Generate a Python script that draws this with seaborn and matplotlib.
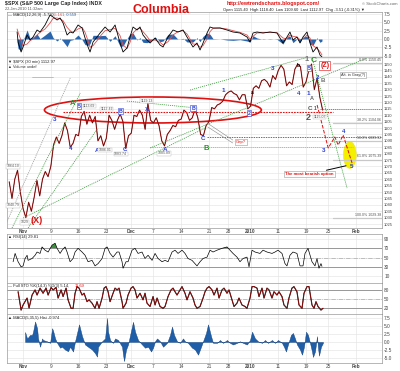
import numpy as np
import matplotlib
matplotlib.use("Agg")
import matplotlib.pyplot as plt
import seaborn as sns
from matplotlib.patches import Ellipse

sns.set_theme(style="white")
plt.rcParams['font.family'] = ['Liberation Sans', 'DejaVu Sans']

# ---------------- data (x = trading-day index, Nov 2 2009 = 0) ----------------
date_ticks = [0, 5, 10, 15, 19.5, 23.5, 28.5, 33.5, 37, 41, 46, 51, 55, 60]
date_labels = ['Nov', '9', '16', '23', 'Dec', '7', '14', '21', '28', '2010', '11', '19', '25', 'Feb']
price_start = -2.5
price = [1058, 1045, 1060, 1067, 1050, 1037,
         1030, 1042, 1035, 1046, 1059, 1047,
         1060, 1066, 1062, 1070, 1087, 1093,
         1088, 1094, 1104, 1098, 1085, 1088,
         1095, 1094, 1109, 1113, 1103, 1110,
         1104, 1109, 1090, 1094, 1086, 1092,
         1110, 1106, 1099, 1106, 1111, 1105,
         1084, 1094, 1096, 1110, 1109, 1114,
         1110, 1099, 1119, 1106, 1104, 1108,
         1102, 1090, 1086, 1095, 1098, 1102,
         1101, 1106, 1107, 1114, 1112, 1106,
         1108, 1115, 1108, 1095, 1094, 1102,
         1105, 1116, 1115, 1118, 1119, 1121,
         1126, 1128, 1129, 1127, 1126, 1122,
         1126, 1126, 1115, 1117, 1131, 1133,
         1131, 1137, 1138, 1136, 1132, 1141,
         1138, 1145, 1149, 1146, 1133, 1136,
         1134, 1146, 1150, 1148, 1132, 1136,
         1145, 1150, 1130, 1139, 1124, 1114]

macd_day = [-1.08, -0.90, -0.36, 0.00, 0.72, 1.26, 1.80, 2.52, 3.06, 3.96,
            4.86, 5.41, 6.13, 6.67, 7.21, 7.93, 8.47, 9.01, 9.91, 10.63,
            11.17, 11.71, 12.07, 12.61, 13.33, 13.88, 14.78, 15.68, 16.58, 17.48,
            18.02, 18.74, 19.28, 19.82, 20.54, 21.08, 21.62, 22.34, 22.89, 23.79,
            24.69, 25.23, 26.13, 27.03, 27.93, 28.83, 29.55, 30.09, 30.63, 31.35,
            31.90, 32.44, 33.16, 33.70, 34.24, 35.50, 36.76, 37.84, 39.10, 40.36,
            40.91, 41.45, 42.17, 43.25, 44.51, 45.77, 46.85, 47.57, 48.11, 48.65,
            49.37, 49.92, 50.46, 51.18, 51.72, 52.26, 52.98, 53.52, 53.88]
macd_line = [2.1, -0.9, -3.9, -2.4, 1.2, -0.3, 0.6, 2.7, 2.1, 4.2,
             7.2, 6.6, 5.7, 6.3, 4.8, 1.2, 2.1, 1.8, 4.2, 3.3,
             0.3, -2.4, -3.9, -0.9, 0.6, 1.8, 3.6, 2.1, 4.2, -1.2,
             -3.9, -2.7, 0.6, 3.6, 2.7, 3.6, 1.2, -0.3, -1.2, 0.3,
             -1.8, -2.4, 0.6, 2.7, 2.1, 2.7, 0.6, -0.9, -2.4, -1.2,
             -3.3, -1.2, 1.8, 3.6, 3.3, 3.3, 2.7, 2.1, 1.8, 0.6,
             -0.9, 1.8, 2.1, 1.8, 2.1, 1.8, -1.2, 0.6, 2.1, -0.3,
             0.6, -1.2, 0.6, 2.1, -1.2, -3.9, -2.4, -4.8, -5.4]
macd_signal = [3.0, 2.0, -0.5, -2.0, -1.5, -0.5, 0.0, 1.2, 2.0, 3.0,
               4.8, 6.2, 6.3, 6.0, 5.5, 3.5, 2.5, 2.0, 3.0, 3.5,
               2.0, -0.5, -2.5, -2.0, -0.5, 0.8, 2.5, 2.8, 3.2, 1.0,
               -1.8, -2.8, -1.0, 1.8, 3.0, 3.2, 2.2, 0.8, -0.5, -0.3,
               -1.0, -1.8, -0.8, 1.2, 2.2, 2.5, 1.5, 0.0, -1.5, -1.6,
               -2.5, -2.0, 0.0, 2.2, 3.2, 3.3, 3.0, 2.5, 2.0, 1.2,
               0.0, 0.8, 1.8, 1.9, 2.0, 1.9, 0.3, 0.0, 1.2, 0.8,
               0.6, -0.2, 0.0, 1.2, 0.3, -2.0, -2.8, -3.8, -4.8]

rsi_day = [-1.80, -1.44, -0.90, -0.36, 0.00, 0.36, 0.72, 0.90, 1.62, 2.16,
           2.52, 3.06, 3.42, 3.96, 4.51, 5.23, 5.77, 6.13, 6.67, 7.03,
           7.57, 7.93, 8.47, 9.01, 9.37, 9.91, 10.63, 11.17, 11.71, 12.43,
           12.97, 13.52, 14.24, 14.78, 15.14, 15.68, 16.22, 16.94, 17.30, 17.84,
           18.02, 18.56, 18.92, 19.64, 20.18, 20.72, 21.44, 21.98, 22.53, 23.25,
           23.79, 24.33, 25.05, 25.59, 26.13, 26.85, 27.39, 27.93, 28.65, 29.19,
           29.73, 30.45, 31.35, 31.90, 32.44, 33.16, 33.70, 34.24, 34.96, 35.86,
           36.76, 37.30, 37.84, 38.56, 39.10, 39.64, 40.36, 40.73, 41.27, 41.81,
           42.71, 43.25, 43.97, 44.87, 45.41, 45.95, 46.67, 47.21, 47.57, 48.11,
           48.65, 49.37, 49.92, 50.46, 50.82, 51.36, 52.08, 52.62, 52.98, 53.34,
           53.70, 53.88]
rsi = [41, 59, 41, 30, 32, 48, 55, 44, 48, 55,
       62, 59, 73, 66, 62, 77, 81, 70, 59, 66,
       73, 62, 41, 48, 62, 70, 62, 55, 41, 44,
       32, 37, 48, 70, 73, 59, 51, 62, 62, 41,
       27, 41, 41, 66, 70, 59, 62, 48, 55, 44,
       59, 48, 41, 44, 41, 62, 66, 59, 66, 59,
       48, 44, 32, 41, 48, 51, 66, 62, 66, 70,
       73, 66, 59, 51, 41, 48, 51, 30, 66, 62,
       59, 66, 62, 59, 62, 66, 59, 37, 32, 55,
       62, 59, 32, 32, 59, 70, 41, 32, 48, 27,
       37, 31]

sto_day = [-0.90, -0.36, 0.00, 0.72, 1.08, 1.62, 2.16, 2.52, 3.06, 3.60,
           4.14, 4.51, 5.05, 5.41, 5.95, 6.31, 6.85, 7.21, 7.75, 8.11,
           8.65, 9.01, 9.37, 9.73, 10.09, 10.63, 10.99, 11.53, 11.89, 12.43,
           12.97, 13.33, 13.70, 14.24, 14.60, 14.96, 15.32, 15.68, 16.22, 16.58,
           16.94, 17.30, 17.84, 18.02, 18.56, 18.92, 19.46, 19.82, 20.18, 20.54,
           21.08, 21.62, 21.98, 22.34, 22.89, 23.43, 23.79, 24.15, 24.69, 25.23,
           25.59, 26.13, 26.67, 27.03, 27.39, 27.75, 28.29, 28.65, 29.19, 29.55,
           30.09, 30.63, 30.99, 31.35, 31.90, 32.44, 32.80, 33.16, 33.52, 34.06,
           34.42, 34.96, 35.32, 35.86, 36.22, 36.76, 37.12, 37.66, 38.02, 38.56,
           38.92, 39.46, 40.01, 40.36, 40.91, 41.27, 41.63, 42.17, 42.53, 43.07,
           43.43, 43.97, 44.33, 44.87, 45.23, 45.77, 46.13, 46.67, 47.03, 47.57,
           47.93, 48.47, 48.83, 49.37, 49.74, 50.28, 50.64, 51.18, 51.54, 52.08,
           52.44, 52.80, 53.16, 53.70, 54.06]
sto = [74, 13, 30, 53, 20, 63, 80, 63, 86, 69,
       86, 63, 88, 80, 88, 53, 80, 58, 86, 47,
       19, 19, 69, 91, 86, 63, 69, 41, 47, 36,
       19, 41, 19, 53, 86, 91, 74, 41, 69, 86,
       80, 86, 41, 19, 36, 63, 86, 91, 80, 53,
       69, 47, 69, 36, 25, 58, 30, 53, 25, 19,
       25, 58, 80, 86, 74, 63, 80, 91, 69, 47,
       74, 53, 30, 19, 25, 53, 74, 86, 91, 80,
       63, 86, 53, 80, 86, 69, 80, 47, 25, 36,
       53, 30, 25, 19, 53, 91, 91, 86, 58, 86,
       53, 86, 80, 53, 74, 63, 74, 58, 30, 19,
       53, 86, 91, 74, 30, 19, 69, 91, 91, 30,
       19, 41, 25, 13, 19]

hist_day = [0.36, 0.72, 0.90, 1.26, 1.62, 1.80, 2.16, 2.52, 2.70, 3.06,
            3.42, 3.60, 4.32, 4.87, 5.23, 5.41, 5.77, 6.13, 6.31, 6.67,
            7.03, 7.57, 8.11, 8.47, 9.01, 9.37, 9.73, 10.09, 10.63, 11.17,
            11.71, 12.43, 12.97, 13.33, 13.52, 14.24, 14.78, 15.14, 15.32, 15.68,
            16.22, 16.58, 17.12, 17.84, 18.02, 18.20, 18.56, 18.92, 19.46, 19.82,
            20.18, 20.72, 21.44, 21.98, 22.53, 23.07, 23.43, 23.79, 24.15, 24.69,
            25.23, 25.95, 26.49, 26.85, 27.21, 27.75, 28.29, 28.83, 29.19, 29.73,
            30.45, 30.99, 31.54, 32.08, 32.44, 32.98, 33.34, 33.88, 34.24, 34.96,
            35.50, 36.04, 36.76, 37.30, 37.84, 38.56, 39.10, 39.64, 40.36, 40.91,
            41.27, 41.81, 42.35, 43.07, 43.61, 44.15, 44.87, 45.41, 45.95, 46.67,
            47.03, 47.39, 47.75, 48.29, 48.65, 49.01, 49.37, 49.92, 50.28, 50.64,
            51.00, 51.36, 51.72, 52.08, 52.26, 52.62, 52.98, 53.16, 53.34, 53.70,
            54.06]
hist = [3.1, 1.1, 1.4, 2.2, 2.2, 3.2, 6.4, 4.3, 1.1, -1.5,
        1.1, 0.6, 0.2, -0.3, 4.3, 3.5, 1.1, -0.3, -0.8, -1.8,
        -1.5, -2.4, -2.9, -1.5, -3.0, 0.2, 2.8, 5.5, 1.8, -0.8,
        -1.5, -2.4, -3.5, -4.6, -1.5, 0.2, 1.1, 7.5, 3.2, 0.6,
        -0.3, 1.1, 0.6, -1.5, -4.0, -6.0, -2.4, -0.8, 3.5, 6.3,
        3.2, 0.6, -0.8, -1.8, -1.5, -3.0, -1.8, 0.2, 1.1, 0.2,
        -1.5, -0.3, 2.2, 4.8, 2.2, 0.2, -0.3, 1.1, 0.2, -0.3,
        -1.8, -2.4, -4.0, -1.5, 0.2, 2.8, 5.5, 1.8, -0.3, -0.3,
        0.6, -0.3, 0.6, -0.3, -0.8, -0.3, 0.2, -0.3, -0.8, 0.6,
        3.2, 1.1, 0.2, -0.3, 0.6, -0.3, 0.6, -0.3, 0.6, -0.3,
        -1.5, -3.0, -0.8, 2.2, 2.8, 1.1, -0.8, -2.4, -4.0, -1.5,
        3.2, 2.2, -0.3, -3.0, -4.7, -3.0, 1.8, -1.8, -4.3, -1.5,
        -0.3]

fib_pct = ['0.0%', '38.2%', '50.0%', '61.8%', '100.0%']
fib_level = [1150.45, 1104.06, 1089.92, 1075.39, 1029.38]

proj_day = [53.0, 55.0, 56.2, 56.8, 57.7, 59.3]
proj_price = [1118, 1084.4, 1093, 1086.7, 1094.5, 1072.7]

# ---------------- figure ----------------
W_PX, H_PX = 400, 371
fig = plt.figure(figsize=(W_PX / 100, H_PX / 100), dpi=100)
fig.patch.set_facecolor('white')
XL, XR = 7, 382


def panel(top, bot):
    return fig.add_axes([XL / W_PX, 1 - bot / H_PX, (XR - XL) / W_PX, (bot - top) / H_PX])


ax_m = panel(12, 57)
ax_p = panel(57, 228)
ax_r = panel(234, 283)
ax_s = panel(283, 314)
ax_h = panel(314, 363)
axes = [ax_m, ax_p, ax_r, ax_s, ax_h]

GRID = '#e2e2e2'
for ax in axes:
    ax.set_facecolor('white')
    ax.set_xlim(-2.9, 64.7)
    for sp in ax.spines.values():
        sp.set_color('#9a9a9a')
        sp.set_linewidth(0.5)
    ax.yaxis.tick_right()
    ax.tick_params(axis='both', length=0, labelsize=3.4, colors='#444', pad=1.5)
    ax.set_xticks(date_ticks)
    ax.set_xticklabels([])
    ax.set_xlabel('')
    ax.set_ylabel('')
    ax.grid(True, color=GRID, lw=0.4)
    ax.set_axisbelow(True)

BLUE = '#2b3fd6'
GREEN = '#2a8f2a'
RED = '#e01010'
HBLUE = '#1f5ea8'

# ---- top MACD ----
md = np.array(macd_day)
ml = np.array(macd_line)
ms = np.array(macd_signal)
ax_m.fill_between(md, 0, ml - ms, color=HBLUE, lw=0, alpha=0.95)
sns.lineplot(x=md, y=ms, ax=ax_m, color='#e05050', lw=0.6)
sns.lineplot(x=md, y=ml, ax=ax_m, color='black', lw=0.6)
ax_m.set_ylim(-5.4, 8.1)
ax_m.set_yticks([-5.0, -2.5, 0.0, 2.5, 5.0, 7.5])
ax_m.set_yticklabels(['-5.0', '-2.5', '0.0', '2.5', '5.0', '7.5'])

# ---- price ----
pdays = price_start + 0.5 * np.arange(len(price))
parr = np.array(price)
sns.lineplot(x=pdays, y=parr, ax=ax_p, color='#b82020', lw=0.8)
sns.lineplot(x=pdays, y=parr, ax=ax_p, color='#220000', lw=0.25)
ax_p.set_ylim(1021.9, 1155.5)
yt = list(range(1025, 1156, 5))
ax_p.set_yticks(yt)
ax_p.set_yticklabels([str(v) if v < 1155 else '' for v in yt], fontsize=3.0)
ax_p.set_xticklabels(date_labels)
ax_p.tick_params(axis='x', pad=0.8, labelsize=3.4)

# horizontal marker lines
ax_p.plot([7.2, 55.9], [1112.5, 1112.5], color=RED, ls=(0, (1.5, 1)), lw=0.8)
ax_p.plot([33.2, 64.7], [1093, 1093], color='#e04040', ls=(0, (1.5, 1)), lw=0.7)
ax_p.plot([22.9, 59.5], [1085, 1085], color='#f09090', ls=(0, (1.5, 1)), lw=0.6)
ax_p.plot([53.5, 64.7], [1115, 1115], color='#6060ff', ls=(0, (1.5, 1)), lw=0.6)

# fib levels
for pct, lvl in zip(fib_pct, fib_level):
    ax_p.plot([55.8, 64.7], [lvl, lvl], color='#c8c8c8', lw=0.9)
    ax_p.text(64.5, lvl + 1.0, f'{pct} {lvl:.2f}', fontsize=2.6, color='#555',
              ha='right', va='bottom')

# trend / channel lines
GL = dict(color='#3c9c3c', ls=(0, (1.5, 1.2)), lw=0.55)
ax_p.plot([-3.4, 8.5], [1021.9, 1139.1], color='#9a9a9a', ls=(0, (1.5, 1.2)), lw=0.55)
ax_p.plot([-2.0, 10.3], [1021.9, 1127.3], **GL)
ax_p.plot([0.9, 13.5], [1021.9, 1100.0], **GL)
ax_p.plot([0.0, 32.8], [1029.7, 1100.0], **GL)
ax_p.plot([18.7, 31.4], [1121.1, 1115.6], **GL)
ax_p.plot([22.9, 62.0], [1084.4, 1154.7], **GL)
ax_p.plot([30.1, 52.1], [1129.7, 1156.3], **GL)
ax_p.plot([52.1, 58.4], [1154.7, 1053.1], **GL)
ax_p.plot([1.6, 5.4], [1139.8, 1139.8], color='#aaaaaa', lw=0.5)

# red ellipse
ax_p.add_patch(Ellipse((23.4, 1114.1), 39.1, 20.3, fill=False, ec=RED, lw=1.2))

# projection
sns.lineplot(x=proj_day, y=proj_price, ax=ax_p, color=RED, lw=0.7, linestyle='--')
ax_p.add_patch(Ellipse((58.9, 1079), 2.3, 21, fc='#f5f000', ec='#e8e000', lw=0.3, zorder=1))

# wave labels
lab = [
    ("A", 8.83, 1119.5, GREEN, 5.5, None), ("3", 5.77, 1106.3, BLUE, 4.5, None),
    ("4", 8.65, 1084.4, BLUE, 4.5, None), ("5", 10.09, 1117.2, BLUE, 3.8, BLUE),
    ("B", 17.48, 1113.3, BLUE, 3.8, BLUE), ("X", 22.34, 1114.8, BLUE, 4.5, None),
    ("B", 30.63, 1115.6, BLUE, 3.8, BLUE), ("A", 13.33, 1082.8, BLUE, 4.5, None),
    ("C", 18.38, 1083.0, BLUE, 4.5, None), ("A", 25.59, 1083.5, BLUE, 4.5, None),
    ("C", 32.44, 1092.2, BLUE, 4.5, None), ("B", 32.98, 1084.0, GREEN, 5.5, None),
    ("1", 36.04, 1129.7, BLUE, 4.5, None), ("2", 40.73, 1111.7, BLUE, 3.8, BLUE),
    ("3", 45.05, 1146.9, BLUE, 4.5, None), ("4", 49.74, 1126.6, BLUE, 4.5, None),
    ("5", 51.54, 1146.9, BLUE, 3.8, BLUE), ("1", 51.36, 1126.6, BLUE, 4.5, None),
    ("2", 53.16, 1139.8, BLUE, 4.5, None), ("a", 41.27, 1128.1, 'black', 3.5, None),
    ("b", 49.56, 1149.2, 'black', 3.5, None), ("A", 52.08, 1123.4, '#666', 4.0, None),
    ("B", 54.06, 1137.5, '#777', 4.5, None), ("1", 51.18, 1153.9, '#777', 5.5, None),
    ("C", 52.44, 1153.1, GREEN, 6.0, None), ("(Z)", 54.4, 1149.0, RED, 5.0, RED),
    ("C", 51.72, 1115.6, '#555', 4.5, None), ("1", 52.6, 1114.9, '#555', 3.5, None),
    ("2", 51.36, 1108.0, '#555', 6.5, None), ("3", 54.1, 1082.8, BLUE, 4.5, None),
    ("4", 57.7, 1097.5, BLUE, 4.5, None), ("5", 59.3, 1070.3, BLUE, 4.5, None),
    ("(X)", 2.4, 1027.5, RED, 6.5, None),
]
for t, d, p, c, s, box in lab:
    kw = {}
    if box is not None:
        kw['bbox'] = dict(boxstyle='square,pad=0.12', fc='white', ec=box, lw=0.4)
    ax_p.text(d, p, t, color=c, fontsize=s, fontweight='bold', ha='center', va='center', **kw)

vals = [("1064.10", -1.8, 1070.0), ("1040.79", -1.8, 1039.5), ("1029", 0.3, 1026.3),
        ("1113.69", 11.9, 1117.2), ("1112.42", 15.1, 1114.8), ("1119.13", 22.3, 1121.5),
        ("1086.01", 14.8, 1082.8), ("1083.74", 17.6, 1079.8), ("1085.89", 25.4, 1080.3),
        ("1115.07", 53.5, 1108.6)]
for t, d, p in vals:
    ax_p.text(d, p, t, color='#555', fontsize=2.5, ha='center', va='center',
              bbox=dict(boxstyle='square,pad=0.1', fc='white', ec='#bbbbbb', lw=0.3))

ax_p.text(59.5, 1141.4, 'Alt. in Gray(?)', fontsize=2.8, color='#333', ha='center', va='center',
          bbox=dict(boxstyle='square,pad=0.2', fc='white', ec='#999', lw=0.4))
ax_p.text(39.3, 1089, 'Gap?', fontsize=3.0, color=RED, ha='center', va='center',
          bbox=dict(boxstyle='square,pad=0.2', fc='white', ec='#999', lw=0.4))
ax_p.plot([37.8, 33.2], [1090.6, 1103.9], color='#888', lw=0.4)
ax_p.plot([37.8, 33.3], [1088.3, 1100.8], color='#888', lw=0.4)
ax_p.annotate('The most bearish option', xy=(58.7, 1071), xytext=(51.6, 1064),
              fontsize=3.1, color=RED, fontweight='bold', ha='center', va='center',
              bbox=dict(boxstyle='square,pad=0.25', fc='white', ec='#999', lw=0.4),
              arrowprops=dict(arrowstyle='-', color='black', lw=0.7))

# ---- RSI ----
rd = np.array(rsi_day)
rv = np.array(rsi, dtype=float)
for lvl in (70, 30):
    ax_r.axhline(lvl, color='#8a8a8a', lw=0.6)
ax_r.axhline(50, color='#aaaaaa', lw=0.5, ls='-.')
ax_r.fill_between(rd, 70, rv, where=rv > 70, interpolate=True, color='#3c8f3c', lw=0)
ax_r.fill_between(rd, 30, rv, where=rv < 30, interpolate=True, color='#b03030', lw=0)
sns.lineplot(x=rd, y=rv, ax=ax_r, color='black', lw=0.5)
ax_r.set_ylim(-5, 101)
ax_r.set_yticks([10, 30, 50, 70, 90])
ax_r.set_yticklabels(['10', '30', '50', '70', '90'])

# ---- Full STO ----
sd = np.array(sto_day)
sv = np.array(sto, dtype=float)
for lvl in (80, 20):
    ax_s.axhline(lvl, color='#8a8a8a', lw=0.6)
ax_s.axhline(50, color='#aaaaaa', lw=0.5, ls='-.')
sns.lineplot(x=sd, y=sv, ax=ax_s, color='black', lw=0.8)
sns.lineplot(x=sd, y=sv, ax=ax_s, color='#c01010', lw=0.45)
ax_s.set_ylim(0, 103)
ax_s.set_yticks([20, 50, 80])
ax_s.set_yticklabels(['20', '50', '80'])

# ---- MACD histogram ----
hd = np.array(hist_day)
hv = np.array(hist)
ax_h.fill_between(hd, 0, hv, color=HBLUE, lw=0.3, edgecolor='#123f78')
ax_h.set_ylim(-6.6, 8.75)
ax_h.set_yticks([-5.0, -2.5, 0.0, 2.5, 5.0, 7.5])
ax_h.set_yticklabels(['-5.0', '-2.5', '0.0', '2.5', '5.0', '7.5'])
ax_h.set_xticklabels(date_labels)
ax_h.tick_params(axis='x', pad=0.8, labelsize=3.4)

for ax in (ax_p, ax_h):
    for lbl in ax.get_xticklabels():
        if lbl.get_text() in ('Nov', 'Dec', '2010', 'Feb'):
            lbl.set_fontweight('bold')

# ---- header / legends ----
def ftext(x, y, s, **kw):
    fig.text(x / W_PX, 1 - y / H_PX, s, va='center', ha=kw.pop('ha', 'left'), **kw)

ftext(5, 4, r'\$SPX (S&P 500 Large Cap Index) INDX', fontsize=3.8, color='#222', fontweight='bold')
ftext(5, 9, '22-Jan-2010 11:32am', fontsize=2.8, color='#555')
ftext(161, 10, 'Columbia', fontsize=9, color=RED, fontweight='bold', ha='center')
ftext(227, 4, 'http://ewtrendscharts.blogspot.com/', fontsize=3.9, color=RED, fontweight='bold')
ftext(397, 4, '© StockCharts.com', fontsize=3.0, color='#666', ha='right')
ftext(223, 10, 'Open 1115.40  High 1118.40  Low 1109.60  Last 1112.97  Chg -3.51 (-0.31%) ▼',
      fontsize=2.9, color='#222')
ftext(8, 15, '— MACD(12,26,9) -5.720,', fontsize=2.9, color='#222')
ftext(54, 15, '-5.161,', fontsize=2.9, color='#e05050')
ftext(66, 15, '-0.559', fontsize=2.9, color=HBLUE)
ftext(8, 62, r'▼ \$SPX (30 min) 1112.97', fontsize=3.0, color='#222')
ftext(8, 67, '▲ Volume undef', fontsize=2.8, color='#333')
ftext(8, 237, '▲ RSI(14) 29.81', fontsize=2.9, color='#222')
ftext(8, 286, '— Full STO %K(14,3) %D(3) 5.14,', fontsize=2.9, color='#222')
ftext(75, 286, '11.69', fontsize=2.9, color=RED)
ftext(8, 318, '▲ MACD(5,35,5) Hist -0.974', fontsize=2.9, color='#222')

fig.savefig('out.png', dpi=100, facecolor='white')
